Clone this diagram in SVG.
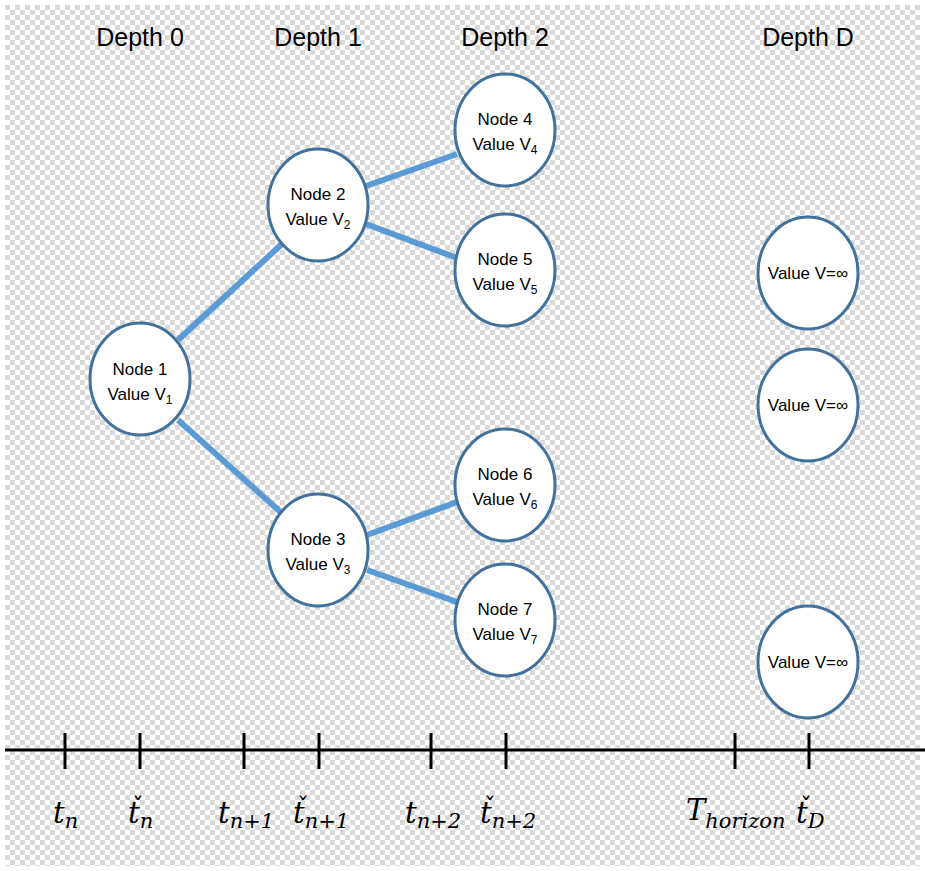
<svg xmlns="http://www.w3.org/2000/svg" width="925" height="871" viewBox="0 0 925 871">
<defs>
<pattern id="chk" x="5" y="5" width="10" height="10" patternUnits="userSpaceOnUse">
<rect width="10" height="10" fill="#ffffff"/>
<rect width="5" height="5" fill="#d8d8d8"/>
<rect x="5" y="5" width="5" height="5" fill="#d8d8d8"/>
</pattern>
<style>
.node ellipse{fill:#ffffff;stroke:#41719c;stroke-width:3}
.node text{font-family:"Liberation Sans","Open Sans",sans-serif;font-size:17px;fill:#000;text-anchor:middle}
.sub{font-size:12px}
.hdr{font-family:"Liberation Sans","Open Sans",sans-serif;font-size:25px;fill:#000;text-anchor:middle}
.edge{stroke:#5b9bd5;stroke-width:6;fill:none}
.axis{stroke:#000;stroke-width:3;fill:none}
.math{font-family:"DejaVu Serif","Liberation Serif",serif;font-style:italic;font-size:29px;fill:#000}
.ms{font-size:21px}
.cr{font-family:"DejaVu Sans",sans-serif;font-style:normal;font-size:24px}
</style>
</defs>
<rect width="925" height="871" fill="#ffffff"/>
<rect x="5" y="5" width="915" height="861" fill="url(#chk)"/>

<g id="headers">
<text class="hdr" x="140" y="46">Depth 0</text>
<text class="hdr" x="318" y="46">Depth 1</text>
<text class="hdr" x="505" y="46">Depth 2</text>
<text class="hdr" x="808" y="46">Depth D</text>
</g>

<g id="connectors">
<line class="edge" x1="178" y1="340" x2="283" y2="243"/>
<line class="edge" x1="178" y1="420" x2="285" y2="516"/>
<line class="edge" x1="366" y1="186" x2="457" y2="154"/>
<line class="edge" x1="366" y1="224" x2="457" y2="258"/>
<line class="edge" x1="367" y1="535" x2="457" y2="502"/>
<line class="edge" x1="367" y1="570" x2="457" y2="602"/>
</g>

<g id="node1" class="node"><ellipse cx="140" cy="379" rx="50" ry="56"/>
<text x="140" y="375">Node 1</text><text x="140" y="400">Value V<tspan class="sub" dy="4">1</tspan></text></g>
<g id="node2" class="node"><ellipse cx="318" cy="205" rx="50" ry="56"/>
<text x="318" y="200">Node 2</text><text x="318" y="225">Value V<tspan class="sub" dy="4">2</tspan></text></g>
<g id="node3" class="node"><ellipse cx="318" cy="550" rx="50" ry="56"/>
<text x="318" y="545">Node 3</text><text x="318" y="570">Value V<tspan class="sub" dy="4">3</tspan></text></g>
<g id="node4" class="node"><ellipse cx="505" cy="130" rx="50" ry="56"/>
<text x="505" y="125">Node 4</text><text x="505" y="150">Value V<tspan class="sub" dy="4">4</tspan></text></g>
<g id="node5" class="node"><ellipse cx="505" cy="270" rx="50" ry="56"/>
<text x="505" y="265">Node 5</text><text x="505" y="290">Value V<tspan class="sub" dy="4">5</tspan></text></g>
<g id="node6" class="node"><ellipse cx="505" cy="485" rx="50" ry="56"/>
<text x="505" y="480">Node 6</text><text x="505" y="505">Value V<tspan class="sub" dy="4">6</tspan></text></g>
<g id="node7" class="node"><ellipse cx="505" cy="620" rx="50" ry="56"/>
<text x="505" y="615">Node 7</text><text x="505" y="640">Value V<tspan class="sub" dy="4">7</tspan></text></g>
<g id="nodeD1" class="node"><ellipse cx="808" cy="273" rx="50" ry="56"/>
<text x="808" y="279">Value V=∞</text></g>
<g id="nodeD2" class="node"><ellipse cx="808" cy="405" rx="50" ry="56"/>
<text x="808" y="411">Value V=∞</text></g>
<g id="nodeD3" class="node"><ellipse cx="808" cy="662" rx="50" ry="56"/>
<text x="808" y="668">Value V=∞</text></g>

<g id="axis">
<line class="axis" x1="5" y1="750" x2="925" y2="750"/>
<line class="axis" x1="65" y1="733" x2="65" y2="769"/>
<line class="axis" x1="140" y1="733" x2="140" y2="769"/>
<line class="axis" x1="244" y1="733" x2="244" y2="769"/>
<line class="axis" x1="319" y1="733" x2="319" y2="769"/>
<line class="axis" x1="431" y1="733" x2="431" y2="769"/>
<line class="axis" x1="506" y1="733" x2="506" y2="769"/>
<line class="axis" x1="735" y1="733" x2="735" y2="769"/>
<line class="axis" x1="809" y1="733" x2="809" y2="769"/>
</g>

<g id="labels">
<text class="math" x="53" y="823">t<tspan class="ms" dy="5">n</tspan></text>
<text class="math" x="128" y="823">t<tspan class="cr" dx="-7.6" dy="-8">ˇ</tspan><tspan class="ms" dx="-4.4" dy="13">n</tspan></text>
<text class="math" x="218" y="823">t<tspan class="ms" dy="5">n+1</tspan></text>
<text class="math" x="293" y="823">t<tspan class="cr" dx="-7.6" dy="-8">ˇ</tspan><tspan class="ms" dx="-4.4" dy="13">n+1</tspan></text>
<text class="math" x="405" y="823">t<tspan class="ms" dy="5">n+2</tspan></text>
<text class="math" x="480" y="823">t<tspan class="cr" dx="-7.6" dy="-8">ˇ</tspan><tspan class="ms" dx="-4.4" dy="13">n+2</tspan></text>
<text class="math" x="686" y="820">T<tspan class="ms" dy="8">horizon</tspan></text>
<text class="math" x="796" y="823">t<tspan class="cr" dx="-7.6" dy="-8">ˇ</tspan><tspan class="ms" dx="-4.4" dy="13">D</tspan></text>
</g>
</svg>
